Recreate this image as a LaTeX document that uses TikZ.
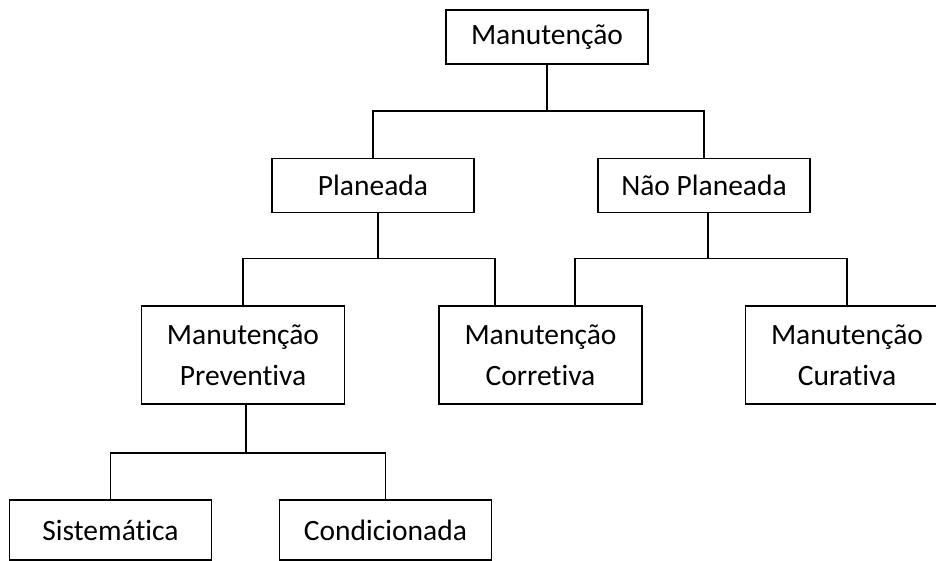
\documentclass[tikz,border=0pt]{standalone}
\usepackage{fontspec}
\setmainfont[Ligatures=NoCommon]{Carlito}
\usepackage{tikz}
\usetikzlibrary{positioning,calc}

\begin{document}
\begin{tikzpicture}
[x=1pt, y=-1pt,
Box/.style={rectangle,draw=black,line width=1.6pt,fill=white,inner sep=0pt,align=center,font=\fontsize{29.5}{41}\selectfont,minimum height=54pt},
SmallBox/.style={Box,minimum width=202pt},
WideBox/.style={Box,minimum width=212pt},
TallBox/.style={Box,minimum width=203pt,minimum height=98pt},
Link/.style={line width=1.6pt}]

\useasboundingbox (0,0) rectangle (936,561);

% topo
\node[SmallBox] (n1) at (547, 37) {Manutenção};

% segundo nivel
\node[SmallBox] (n2) at (373, 185.5) {Planeada};
\node[WideBox] (n3) at (704, 185.5) {Não Planeada};

% terceiro nivel
\node[TallBox] (n4) at (243, 355) {Manutenção\\Preventiva};
\node[TallBox] (n5) at (540.5, 355) {Manutenção\\Corretiva};
\node[TallBox] (n6) at (847, 355) {Manutenção\\Curativa};

% quarto nivel
\node[SmallBox,minimum height=60pt] (n7) at (110.5, 530) {Sistemática};
\node[WideBox,minimum height=60pt] (n8) at (385.5, 530) {Condicionada};

% ligacoes
\draw[Link] (n1.south) -- ++(0,46) coordinate (j1);
\draw[Link] (n2.north) |- (j1) -| (n3.north);

\draw[Link] ([xshift=5pt]n2.south) -- ++(0,45) coordinate (j2);
\draw[Link] (n4.north) |- (j2) -| ([xshift=57pt]n5.north west);

\draw[Link] ([xshift=4pt]n3.south) -- ++(0,45) coordinate (j3);
\draw[Link] ([xshift=137pt]n5.north west) |- (j3) -| (n6.north);

\draw[Link] ([xshift=3pt]n4.south) -- ++(0,48) coordinate (j4);
\draw[Link] (n7.north) |- (j4) -| (n8.north);

\end{tikzpicture}
\end{document}
